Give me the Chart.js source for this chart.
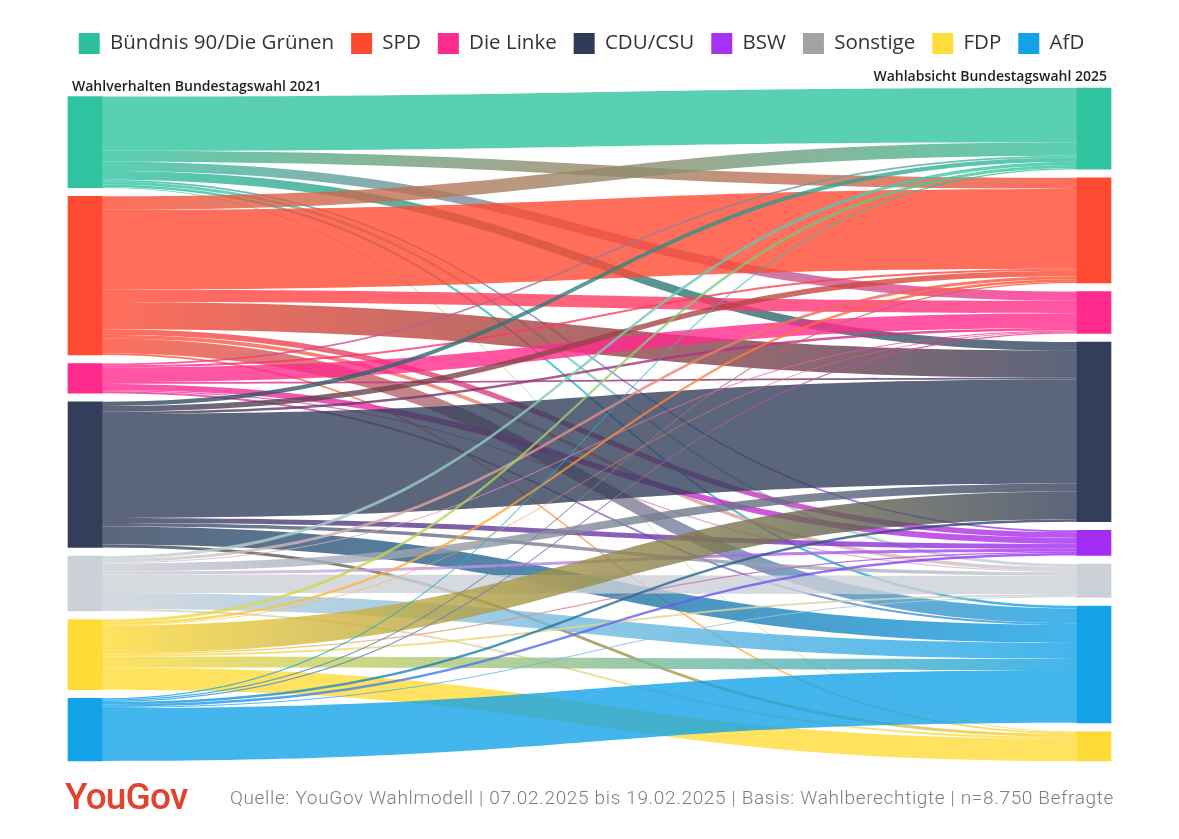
<!DOCTYPE html>
<html lang="de">
<head>
<meta charset="utf-8">
<script src="https://cdn.jsdelivr.net/npm/chart.js@4.4.1/dist/chart.umd.min.js"></script>
<style>
html,body{margin:0;padding:0;background:#fff;}
#wrap{position:relative;width:1179px;height:839px;}
#logo{position:absolute;left:65px;top:777px;font-family:Roboto,sans-serif;font-size:37px;font-weight:500;color:#e1432f;letter-spacing:-0.8px;line-height:40px;}
#src{position:absolute;left:230px;top:786px;font-family:Roboto,sans-serif;font-size:19px;font-weight:300;color:#7d7d7d;letter-spacing:0.66px;line-height:24px;white-space:nowrap;}
</style>
</head>
<body>
<div id="wrap">
<canvas id="c"></canvas>
<div id="logo">YouGov</div>
<div id="src">Quelle: YouGov Wahlmodell | 07.02.2025 bis 19.02.2025 | Basis: Wahlberechtigte | n=8.750 Befragte</div>
</div>
<script>
// ---------- data ----------
const parties = ['Bündnis 90/Die Grünen','SPD','Die Linke','CDU/CSU','BSW','Sonstige','FDP','AfD'];
const nodeColors   = ['#2fc49f','#ff4a32','#ff2a8c','#333f5a','#a42df4','#ccd0d7','#ffdb38','#14a3e8'];
const legendColors = ['#2dbf9b','#fd4a2f','#fb2c8b','#2f3b58','#a632f5','#a3a3a3','#fedc3c','#13a2e8'];
const years = ['2021','2025'];
const headings = ['Wahlverhalten Bundestagswahl 2021','Wahlabsicht Bundestagswahl 2025'];
const sources2021 = ['Bündnis 90/Die Grünen','SPD','Die Linke','CDU/CSU','Sonstige','FDP','AfD'];
const targets2025 = ['Bündnis 90/Die Grünen','SPD','Die Linke','CDU/CSU','BSW','Sonstige','AfD','FDP'];
// flows (share of voters, %), columns follow targets2025
const fromGruene   = [8.8, 1.8, 1.5, 1.4, 0.3, 0.5, 0.4, 0.1];
const fromSPD      = [2.2, 13.0, 2.0, 4.4, 0.9, 0.6, 2.4, 0.3];
const fromLinke    = [0.3, 0.3, 2.4, 0.3, 1.0, 0.2, 0.3, 0.0];
const fromCDU      = [0.7, 0.9, 0.4, 16.9, 0.8, 0.6, 2.9, 0.5];
const fromSonstige = [0.5, 0.5, 0.2, 1.3, 0.5, 3.0, 2.6, 0.3];
const fromFDP      = [0.5, 0.4, 0.1, 4.5, 0.2, 0.3, 1.8, 3.6];
const fromAfD      = [0.2, 0.2, 0.2, 0.4, 0.4, 0.2, 8.6, 0.0];
const flowRows = [fromGruene, fromSPD, fromLinke, fromCDU, fromSonstige, fromFDP, fromAfD];

// ---------- layout (value space) ----------
const GAP = 1.4;
const NODE_W = 34;
const FLOW_ALPHA = 0.8;
const sum = a => a.reduce((s, v) => s + v, 0);
const leftTotals = flowRows.map(r => sum(r));
const rightTotals = targets2025.map((t, j) => sum(flowRows.map(r => r[j])));
const leftExtent = sum(leftTotals) + GAP * (leftTotals.length - 1);
const rightExtent = sum(rightTotals) + GAP * (rightTotals.length - 1);
const yMax = Math.max(leftExtent, rightExtent);
function stack(totals, extent) {
  let y = yMax - extent;
  return totals.map(v => { const n = [y, y + v]; y += v + GAP; return n; });
}
const leftNodes = stack(leftTotals, leftExtent);
const rightNodes = stack(rightTotals, rightExtent);

// link segments
const links = [];
const srcCursor = leftNodes.map(n => n[0]);
const tgtCursor = rightNodes.map(n => n[0]);
flowRows.forEach((row, i) => {
  row.forEach((v, j) => {
    links.push({i, j, v, s0: srcCursor[i], s1: srcCursor[i] + v});
    srcCursor[i] += v;
  });
});
for (let j = 0; j < targets2025.length; j++) {
  for (let i = 0; i < sources2021.length; i++) {
    const l = links.find(k => k.i === i && k.j === j);
    l.t0 = tgtCursor[j]; l.t1 = tgtCursor[j] + l.v; tgtCursor[j] += l.v;
  }
}

const colorOf = name => nodeColors[parties.indexOf(name)];
function rgba(hex, a) {
  const n = parseInt(hex.slice(1), 16);
  return `rgba(${(n >> 16) & 255},${(n >> 8) & 255},${n & 255},${a})`;
}

const datasets = parties.map((p, k) => {
  const li = sources2021.indexOf(p), ri = targets2025.indexOf(p);
  return {
    label: p,
    data: [li >= 0 ? leftNodes[li] : null, ri >= 0 ? rightNodes[ri] : null],
    backgroundColor: nodeColors[k],
    borderWidth: 0,
    barThickness: NODE_W,
    grouped: false,
    clip: false
  };
});

const flowPlugin = {
  id: 'flows',
  beforeDatasetsDraw(chart) {
    const {ctx} = chart; const xs = chart.scales.x, ys = chart.scales.y;
    const x0 = xs.getPixelForValue(0) + NODE_W / 2;
    const x1 = xs.getPixelForValue(1) - NODE_W / 2;
    const xm = (x0 + x1) / 2;
    ctx.save();
    links.forEach(l => {
      if (l.v <= 0) return;
      const a0 = ys.getPixelForValue(l.s0), a1 = ys.getPixelForValue(l.s1);
      const b0 = ys.getPixelForValue(l.t0), b1 = ys.getPixelForValue(l.t1);
      const g = ctx.createLinearGradient(x0, 0, x1, 0);
      g.addColorStop(0, rgba(colorOf(sources2021[l.i]), FLOW_ALPHA));
      g.addColorStop(1, rgba(colorOf(targets2025[l.j]), FLOW_ALPHA));
      ctx.fillStyle = g;
      ctx.beginPath();
      ctx.moveTo(x0 - 1, a0);
      ctx.lineTo(x0, a0);
      ctx.bezierCurveTo(xm, a0, xm, b0, x1, b0);
      ctx.lineTo(x1 + 1, b0);
      ctx.lineTo(x1 + 1, b1);
      ctx.lineTo(x1, b1);
      ctx.bezierCurveTo(xm, b1, xm, a1, x0, a1);
      ctx.lineTo(x0 - 1, a1);
      ctx.closePath();
      ctx.fill();
    });
    ctx.restore();
  }
};

const headingPlugin = {
  id: 'headings',
  afterDraw(chart) {
    const {ctx} = chart; const xs = chart.scales.x, ys = chart.scales.y;
    ctx.save();
    ctx.font = '600 14px "Open Sans"';
    ctx.fillStyle = '#1e1e1e';
    ctx.textBaseline = 'alphabetic';
    ctx.textAlign = 'left';
    ctx.fillText(headings[0], xs.getPixelForValue(0) - NODE_W / 2 + 4, ys.getPixelForValue(leftNodes[0][0]) - 6);
    ctx.textAlign = 'right';
    ctx.fillText(headings[1], xs.getPixelForValue(1) + NODE_W / 2 - 4, ys.getPixelForValue(rightNodes[0][0]) - 7);
    ctx.restore();
  }
};

// let the single legend row use the full canvas width
const legendSpacer = {
  id: 'legendSpacer',
  beforeInit(chart) {
    const legend = chart.legend;
    const fit = legend.fit;
    legend.fit = function () {
      this.maxWidth = this.chart.width + 200;
      fit.call(this);
      this.height += 24;
    };
    const draw = legend.draw;
    legend.draw = function () {
      const l = this.left, r = this.right;
      this.left = -8; this.right = this.chart.width - 8;
      draw.apply(this, arguments);
      this.left = l; this.right = r;
    };
  }
};

new Chart(document.getElementById('c'), {
  type: 'bar',
  data: {labels: years, datasets},
  options: {
    responsive: true,
    maintainAspectRatio: false,
    animation: false,
    layout: {padding: {left: 85, right: 85, top: 16, bottom: 78}},
    scales: {
      x: {type: 'category', offset: false, display: false, grid: {display: false}},
      y: {type: 'linear', reverse: true, min: 0, max: yMax, display: false}
    },
    plugins: {
      tooltip: {enabled: false},
      legend: {
        display: true, position: 'top', align: 'center',
        labels: {
          boxWidth: 21, boxHeight: 21, padding: 17, color: '#333333',
          font: {family: 'Open Sans', size: 20.5},
          generateLabels: () => parties.map((p, i) => ({
            text: p, fillStyle: legendColors[i], strokeStyle: legendColors[i],
            lineWidth: 0, hidden: false, datasetIndex: i, fontColor: '#333333'
          }))
        }
      }
    }
  },
  plugins: [flowPlugin, headingPlugin, legendSpacer]
});
</script>
</body>
</html>
